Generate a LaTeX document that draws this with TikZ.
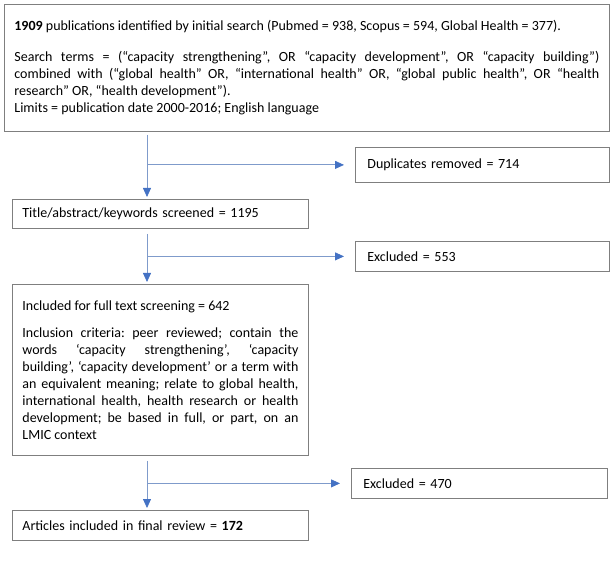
\documentclass[tikz,border=0pt]{standalone}
\usepackage{fontspec}
\setmainfont{Carlito}
\frenchspacing
\usetikzlibrary{arrows.meta}
\definecolor{boxgray}{HTML}{7F7F7F}
\definecolor{arrblue}{HTML}{4472C4}
\definecolor{lineblue}{HTML}{7F9BCB}
\begin{document}
\begin{tikzpicture}[x=1pt,y=-1pt,
  box/.style={draw=boxgray, line width=0.8pt, anchor=north west, inner xsep=10pt, inner ysep=0pt,
    font=\fontsize{14}{17}\selectfont},
  jbox/.style={box, align=justify},
  sbox/.style={box, align=left, inner xsep=12pt},
  conn/.style={draw=lineblue, line width=0.8pt, -{Triangle[length=9pt,width=8pt,fill=arrblue,color=arrblue]}}
]
\useasboundingbox (0,0) rectangle (613,561);

\node[jbox, text width=585pt, minimum height=127pt] (search) at (4,4)
{\frenchspacing{\bfseries 1909} publications identified by initial search (Pubmed = 938, Scopus = 594, Global Health = 377).\par\vspace{14pt}
Search terms = (“capacity strengthening”, OR “capacity development”, OR “capacity building”)\linebreak
combined with (“global health” OR, “international health” OR, “global public health”, OR “health\linebreak
research” OR, “health development”).\par
Limits = publication date 2000-2016; English language\par\vspace{17pt}};

\node[sbox, text width=230pt, minimum height=35pt] (dup) at (355,147) {Duplicates removed = 714};
\node[box, align=left, text width=276pt, minimum height=29pt] (title) at (12,199) {Title/abstract/keywords screened = 1195};
\node[sbox, text width=230pt, minimum height=30pt] (ex1) at (355,241) {Excluded = 553};

\node[jbox, text width=276pt, minimum height=171pt] (incl) at (12,284)
{\frenchspacing Included for full text screening = 642\par\vspace{10pt}
Inclusion criteria: peer reviewed; contain the\linebreak
words ‘capacity strengthening’, ‘capacity\linebreak
building’, ‘capacity development’ or a term with\linebreak
an equivalent meaning; relate to global health,\linebreak
international health, health research or health\linebreak
development; be based in full, or part, on an\linebreak
LMIC context\par\vspace{6pt}};

\node[sbox, text width=232pt, minimum height=30pt] (ex2) at (351,468) {Excluded = 470};
\node[box, align=left, text width=276pt, minimum height=30pt] (final) at (12,510) {Articles included in final review = \textbf{172}};

\coordinate (vx) at (147,0);

\draw[conn] ([yshift=-3pt]search.south -| vx) -- ([yshift=2pt]title.north -| vx);
\draw[conn] (vx |- dup.west) -- ([xshift=-11pt]dup.west);

\draw[conn] ([yshift=-5pt]title.south -| vx) -- ([yshift=2pt]incl.north -| vx);
\draw[conn] (vx |- ex1.west) -- ([xshift=-11pt]ex1.west);

\draw[conn] ([yshift=-5pt]incl.south -| vx) -- ([yshift=2pt]final.north -| vx);
\draw[conn] (vx |- ex2.west) -- ([xshift=-11pt]ex2.west);
\end{tikzpicture}
\end{document}
